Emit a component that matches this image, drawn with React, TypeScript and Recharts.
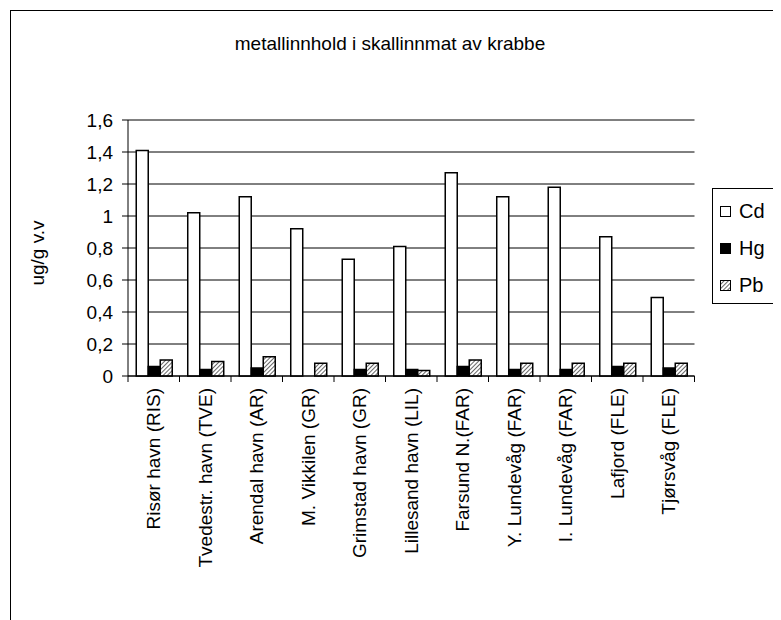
import React from 'react';
import { BarChart, Bar, XAxis, YAxis, CartesianGrid, Label } from 'recharts';

const categories = [
  'Risør havn (RIS)',
  'Tvedestr. havn (TVE)',
  'Arendal havn (AR)',
  'M. Vikkilen (GR)',
  'Grimstad havn (GR)',
  'Lillesand havn (LIL)',
  'Farsund N.(FAR)',
  'Y. Lundevåg (FAR)',
  'I. Lundevåg (FAR)',
  'Lafjord (FLE)',
  'Tjørsvåg (FLE)',
];
const cd = [1.41, 1.02, 1.12, 0.92, 0.73, 0.81, 1.27, 1.12, 1.18, 0.87, 0.49];
const hg = [0.06, 0.04, 0.05, 0, 0.04, 0.04, 0.06, 0.04, 0.04, 0.06, 0.05];
const pb = [0.1, 0.09, 0.12, 0.08, 0.08, 0.035, 0.1, 0.08, 0.08, 0.08, 0.08];
const yTicks = [0, 0.2, 0.4, 0.6, 0.8, 1, 1.2, 1.4, 1.6];

const data = categories.map((name, i) => ({ name, Cd: cd[i], Hg: hg[i], Pb: pb[i] }));

const FONT = '"Liberation Sans", Arial, sans-serif';
const FS = 19;

const fmt = (v: number) => (Number.isInteger(v) ? String(v) : v.toFixed(1).replace('.', ','));

// category labels rotated, with tick marks on the category boundaries
const CategoryTick = (props: any) => {
  const { x, y, payload, index, visibleTicksCount } = props;
  const off = payload.offset ?? 0;
  const ty = y + 12;
  return (
    <g>
      <line x1={x - off} y1={y} x2={x - off} y2={y + 6} stroke="#000" />
      {index === visibleTicksCount - 1 && <line x1={x + off} y1={y} x2={x + off} y2={y + 6} stroke="#000" />}
      <text
        x={x}
        y={ty}
        transform={`rotate(-90, ${x}, ${ty})`}
        textAnchor="end"
        dominantBaseline="central"
        fontSize={FS}
        fontFamily={FONT}
        fill="#000"
      >
        {payload.value}
      </text>
    </g>
  );
};

const YTitle = (props: any) => {
  const { viewBox } = props;
  const x = viewBox.x + 9;
  const y = viewBox.y + viewBox.height / 2 + 5;
  return (
    <text
      x={x}
      y={y}
      transform={`rotate(-90, ${x}, ${y})`}
      textAnchor="middle"
      dominantBaseline="central"
      fontSize={FS}
      fontFamily={FONT}
      fill="#000"
    >
      ug/g v.v
    </text>
  );
};

const LegendIcon = ({ kind }: { kind: string }) => (
  <svg width={11} height={11} style={{ display: 'block' }}>
    {kind === 'Pb' && (
      <defs>
        <pattern id="hatchLegend" width="3" height="3" patternUnits="userSpaceOnUse" patternTransform="rotate(45)">
          <rect width="3" height="3" fill="#fff" />
          <line x1="0" y1="0" x2="0" y2="3" stroke="#000" strokeWidth="1.2" />
        </pattern>
      </defs>
    )}
    <rect
      x={0.5}
      y={0.5}
      width={10}
      height={10}
      fill={kind === 'Cd' ? '#fff' : kind === 'Hg' ? '#000' : 'url(#hatchLegend)'}
      stroke="#000"
    />
  </svg>
);

export default function App() {
  return (
    <div style={{ position: 'relative', width: 773, height: 612, overflow: 'hidden', fontFamily: FONT }}>
      <div style={{ position: 'absolute', left: 2, top: 2, width: 900, height: 800, border: '1px solid #000' }} />
      <div style={{ position: 'absolute', left: 0, top: 25, width: 764, textAlign: 'center', fontSize: FS, color: '#000' }}>
        metallinnhold i skallinnmat av krabbe
      </div>
      <div
        style={{
          position: 'absolute',
          left: 704,
          top: 180,
          width: 68,
          height: 116,
          border: '1px solid #000',
          background: '#fff',
          boxSizing: 'border-box',
          paddingTop: 4,
          paddingLeft: 7,
        }}
      >
        {['Cd', 'Hg', 'Pb'].map((k) => (
          <div key={k} style={{ display: 'flex', alignItems: 'center', height: 37 }}>
            <LegendIcon kind={k} />
            <span style={{ marginLeft: 8, fontSize: FS + 1 }}>{k}</span>
          </div>
        ))}
      </div>
      <div style={{ position: 'absolute', left: 0, top: 0 }}>
        <BarChart
          width={773}
          height={612}
          data={data}
          margin={{ top: 112, right: 86.5, left: 20, bottom: 84 }}
          barCategoryGap="16%"
          barGap={0}
        >
          <defs>
            <pattern id="hatch" width="3" height="3" patternUnits="userSpaceOnUse" patternTransform="rotate(45)">
              <rect width="3" height="3" fill="#fff" />
              <line x1="0" y1="0" x2="0" y2="3" stroke="#000" strokeWidth="1.2" />
            </pattern>
          </defs>
          <CartesianGrid vertical={false} stroke="#000" />
          <XAxis
            dataKey="name"
            interval={0}
            height={160}
            tickSize={0}
            tickMargin={0}
            tickLine={false}
            axisLine={{ stroke: '#000' }}
            tick={<CategoryTick />}
          />
          <YAxis
            width={100}
            domain={[0, 1.6]}
            ticks={yTicks}
            tickFormatter={fmt}
            tickSize={6}
            tickMargin={9}
            axisLine={{ stroke: '#000' }}
            tickLine={{ stroke: '#000' }}
            tick={{ fontSize: FS, fill: '#000', fontFamily: FONT }}
          >
            <Label content={<YTitle />} />
          </YAxis>
          <Bar dataKey="Cd" fill="#fff" stroke="#000" strokeWidth={1.5} isAnimationActive={false} />
          <Bar dataKey="Hg" fill="#000" stroke="#000" strokeWidth={1.5} isAnimationActive={false} />
          <Bar dataKey="Pb" fill="url(#hatch)" stroke="#000" strokeWidth={1.5} isAnimationActive={false} />
        </BarChart>
      </div>
    </div>
  );
}
